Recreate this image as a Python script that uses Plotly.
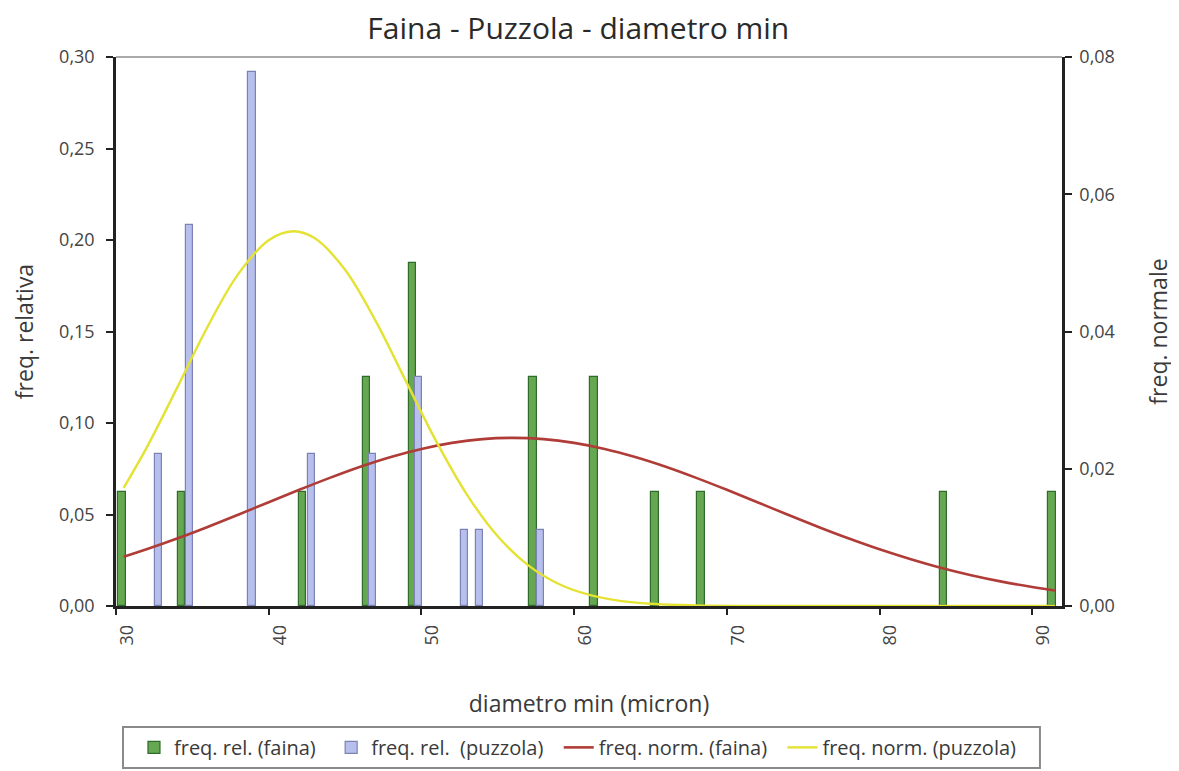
import plotly.graph_objects as go

# --- data ---
faina_x = [30.4, 34.3, 42.2, 46.4, 49.4, 57.3, 61.3, 65.3, 68.3, 84.2, 91.3]
faina_rel = [0.0625, 0.0625, 0.0625, 0.125, 0.1875, 0.125, 0.125, 0.0625, 0.0625, 0.0625, 0.0625]

puzzola_x = [32.8, 34.8, 38.9, 42.8, 46.8, 49.8, 52.8, 53.8, 57.8]
puzzola_rel = [0.0833, 0.2083, 0.2917, 0.0833, 0.0833, 0.125, 0.0417, 0.0417, 0.0417]

curve_x_faina = [30.5, 32, 34, 36, 38, 40, 42, 44, 46, 48, 50, 52, 54, 56, 58, 60,
                 62, 64, 66, 68, 70, 72, 74, 76, 78, 80, 82, 84, 86, 88, 90, 91.5]
norm_faina = [0.00718, 0.00826, 0.00983, 0.01152, 0.01330, 0.01512, 0.01693, 0.01867,
              0.02029, 0.02171, 0.02289, 0.02377, 0.02432, 0.02450, 0.02432, 0.02377,
              0.02289, 0.02171, 0.02029, 0.01867, 0.01693, 0.01512, 0.01330, 0.01152,
              0.00983, 0.00826, 0.00685, 0.00558, 0.00449, 0.00355, 0.00277, 0.00227]

curve_x_puzzola = [30.5, 32, 34, 36, 38, 40, 41.6, 43, 45, 47, 49, 51, 53, 55, 57, 59,
                   61, 63, 65, 68, 72, 80, 91.5]
norm_puzzola = [0.0172, 0.02304, 0.03178, 0.04070, 0.04836, 0.05331, 0.05460, 0.05361,
                0.04900, 0.04155, 0.03269, 0.02387, 0.01616, 0.01016, 0.00592, 0.00320,
                0.00161, 0.00075, 0.00032, 0.00008, 0.00001, 0.0, 0.0]

y_ticks_left = [0, 0.05, 0.10, 0.15, 0.20, 0.25, 0.30]
y_ticks_right = [0, 0.02, 0.04, 0.06, 0.08]
x_ticks = [30, 40, 50, 60, 70, 80, 90]

legend_names = ["freq. rel. (faina)", "freq. rel.  (puzzola)",
                "freq. norm. (faina)", "freq. norm. (puzzola)"]
PAD = "\u00a0\u00a0"

FONT = "Open Sans"
TXT = "#3a3a3a"

fig = go.Figure()

fig.add_trace(go.Bar(
    x=faina_x, y=faina_rel, name=legend_names[0] + PAD,
    width=0.48,
    marker=dict(color="#66a851", line=dict(color="#2f6b2a", width=1.2)),
    yaxis="y",
))
fig.add_trace(go.Bar(
    x=puzzola_x, y=puzzola_rel, name=legend_names[1] + PAD,
    width=0.48,
    marker=dict(color="#b7bfec", line=dict(color="#7c82b3", width=1.2)),
    yaxis="y",
))
fig.add_trace(go.Scatter(
    x=curve_x_faina, y=norm_faina, name=legend_names[2] + PAD,
    mode="lines", line=dict(color="#b03c38", width=2.6, shape="spline"),
    yaxis="y2",
))
fig.add_trace(go.Scatter(
    x=curve_x_puzzola, y=norm_puzzola, name=legend_names[3],
    mode="lines", line=dict(color="#e4e233", width=2.4, shape="spline"),
    yaxis="y2",
))

fig.update_layout(
    width=1171, height=763,
    autosize=False,
    separators=",.",
    paper_bgcolor="white",
    plot_bgcolor="white",
    font=dict(family=FONT, size=18, color=TXT),
    margin=dict(l=108, r=117, t=49, b=165, autoexpand=False),
    barmode="overlay",
    bargap=0,
    title=dict(
        text="Faina - Puzzola - diametro min",
        x=0.487, xanchor="center", y=0.973, yanchor="middle",
        font=dict(family=FONT, size=30, color="#2a2a2a"),
    ),
    xaxis=dict(
        range=[30, 91.95],
        tickvals=x_ticks,
        ticktext=[str(v) for v in x_ticks],
        tickangle=-90,
        ticks="outside", ticklen=6, tickwidth=2, tickcolor="#222",
        ticklabelshift=11, ticklabelstandoff=3,
        showline=True, linecolor="#222", linewidth=2.5,
        showgrid=False, zeroline=False, automargin=False,
        tickfont=dict(size=18, color="#444"),
        title=dict(text="diametro min (micron)", standoff=52,
                   font=dict(size=23, color=TXT)),
    ),
    yaxis=dict(
        range=[0, 0.30],
        tickvals=y_ticks_left,
        tickformat=".2f",
        ticks="outside", ticklen=7, tickwidth=2, tickcolor="#222",
        ticklabelstandoff=8,
        showline=True, linecolor="#222", linewidth=2.5,
        showgrid=False, zeroline=False, automargin=False,
        tickfont=dict(size=18, color="#444"),
        title=dict(text="freq. relativa", standoff=24,
                   font=dict(size=23, color=TXT)),
    ),
    yaxis2=dict(
        range=[0, 0.08],
        overlaying="y", side="right",
        tickvals=y_ticks_right,
        tickformat=".2f",
        ticks="outside", ticklen=7, tickwidth=2, tickcolor="#222",
        ticklabelstandoff=4,
        showline=True, linecolor="#222", linewidth=2.5,
        showgrid=False, zeroline=False, automargin=False,
        tickfont=dict(size=18, color="#444"),
        title=dict(text="freq. normale", standoff=38,
                   font=dict(size=23, color=TXT)),
    ),
    legend=dict(
        orientation="h",
        x=0.019, xanchor="left",
        y=-0.222, yanchor="top",
        borderwidth=0,
        bgcolor="rgba(0,0,0,0)",
        font=dict(size=20, color=TXT),
        itemwidth=30,
        tracegroupgap=0,
    ),
    shapes=[
        dict(type="line", xref="paper", yref="paper", x0=0, x1=1, y0=1, y1=1,
             line=dict(color="#aaaaaa", width=2)),
        dict(type="rect", xref="paper", yref="paper",
             x0=0.0074, x1=0.9767, y0=-0.295, y1=-0.2204,
             line=dict(color="#8a8a8a", width=2), fillcolor="rgba(0,0,0,0)"),
    ],
)

fig.write_html("out.html")
